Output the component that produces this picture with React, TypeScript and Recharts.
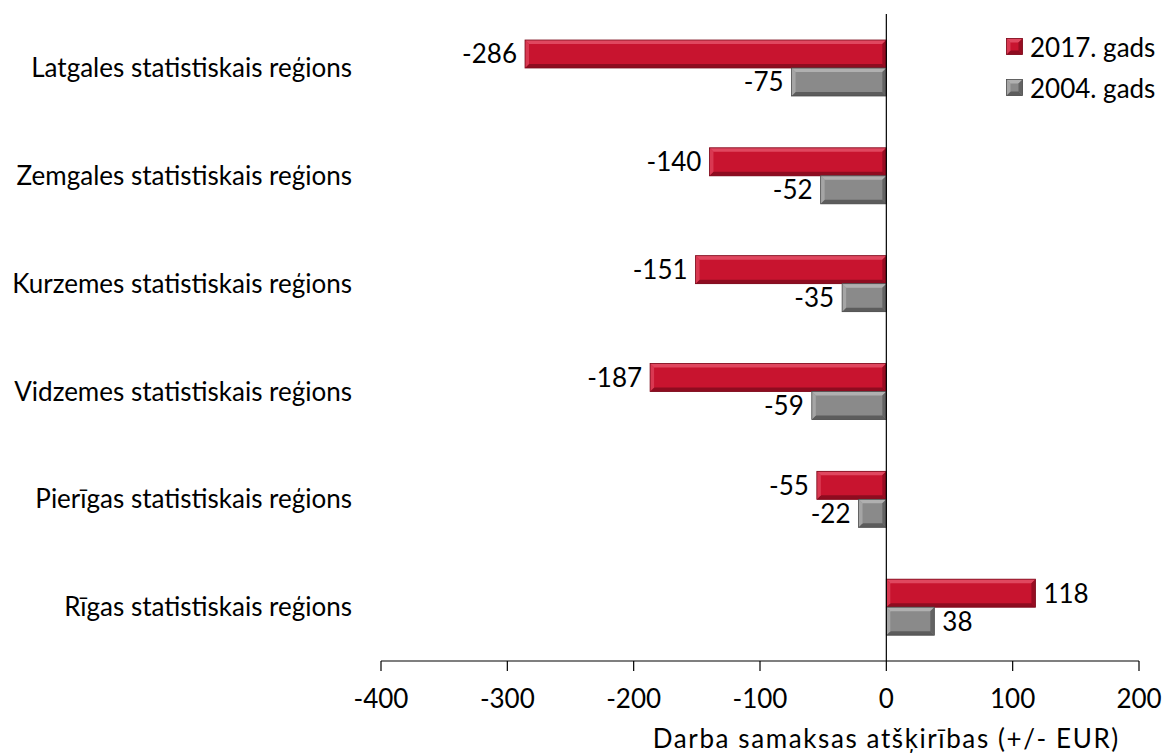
import { BarChart, Bar, XAxis, YAxis, ReferenceLine, LabelList } from 'recharts';

const regions = [
  'Latgales statistiskais reģions',
  'Zemgales statistiskais reģions',
  'Kurzemes statistiskais reģions',
  'Vidzemes statistiskais reģions',
  'Pierīgas statistiskais reģions',
  'Rīgas statistiskais reģions',
];
const values2017 = [-286, -140, -151, -187, -55, 118];
const values2004 = [-75, -52, -35, -59, -22, 38];
const xTicks = [-400, -300, -200, -100, 0, 100, 200];

const FONT = 'Lato, "Open Sans", sans-serif';
const FS = 26;
const RED = { main: '#c8142f', light: '#e0475f', dark: '#8e0c20', edge: '#7a0a1b' };
const GREY = { main: '#8a8a8a', light: '#b0b0b0', dark: '#5c5c5c', edge: '#4d4d4d' };

const data = regions.map((region, i) => ({
  region,
  y2017: values2017[i],
  y2004: values2004[i],
}));

type Pal = typeof RED;

function Bevel({ x, y, w, h, pal }: { x: number; y: number; w: number; h: number; pal: Pal }) {
  const b = Math.min(4, w / 2, h / 2);
  return (
    <g>
      <rect x={x} y={y} width={w} height={h} fill={pal.main} />
      <polygon points={`${x},${y} ${x + w},${y} ${x + w - b},${y + b} ${x + b},${y + b}`} fill={pal.light} />
      <polygon points={`${x},${y + h} ${x + w},${y + h} ${x + w - b},${y + h - b} ${x + b},${y + h - b}`} fill={pal.dark} />
      <polygon points={`${x},${y} ${x + b},${y + b} ${x + b},${y + h - b} ${x},${y + h}`} fill={pal.light} opacity={0.7} />
      <polygon points={`${x + w},${y} ${x + w - b},${y + b} ${x + w - b},${y + h - b} ${x + w},${y + h}`} fill={pal.dark} opacity={0.85} />
      <rect x={x} y={y} width={w} height={h} fill="none" stroke={pal.edge} strokeWidth={0.8} />
    </g>
  );
}

const bevelShape = (pal: Pal) => (props: any) => {
  const { x, y, width, height } = props;
  const x0 = width < 0 ? x + width : x;
  const w = Math.abs(width);
  if (!w) return <g />;
  return <Bevel x={x0} y={y} w={w} h={height} pal={pal} />;
};

const valueLabel = (props: any) => {
  const { x, y, width, height, value } = props;
  const left = Math.min(x, x + width);
  const right = Math.max(x, x + width);
  const neg = value < 0;
  return (
    <text
      x={neg ? left - 8 : right + 8}
      y={y + height / 2}
      dy="0.36em"
      textAnchor={neg ? 'end' : 'start'}
      fontSize={FS}
      fontFamily={FONT}
      fill="#000"
    >
      {value}
    </text>
  );
};

const axisTitle = (props: any) => {
  const { viewBox } = props;
  // centred under the zero line
  const cx = viewBox.x + (viewBox.width * 400) / 600;
  return (
    <text
      x={cx}
      y={748}
      textAnchor="middle"
      fontSize={FS}
      fontFamily={FONT}
      letterSpacing={1.6}
      fill="#000"
    >
      Darba samaksas atšķirības (+/- EUR)
    </text>
  );
};

function LegendBox() {
  const items = [
    { label: '2017. gads', pal: RED },
    { label: '2004. gads', pal: GREY },
  ];
  return (
    <div
      style={{
        position: 'absolute',
        left: 1006,
        top: 26,
        fontFamily: FONT,
        fontSize: FS,
        color: '#000',
      }}
    >
      {items.map((it) => (
        <div key={it.label} style={{ display: 'flex', alignItems: 'center', height: 41 }}>
          <svg width={17} height={17} style={{ marginRight: 7 }}>
            <Bevel x={0.5} y={0.5} w={16} h={16} pal={it.pal} />
          </svg>
          <span>{it.label}</span>
        </div>
      ))}
    </div>
  );
}

export default function App() {
  return (
    <div style={{ position: 'absolute', left: 0, top: 0, width: 1165, height: 755, background: '#fff' }}>
      <BarChart
        width={1165}
        height={755}
        data={data}
        layout="vertical"
        margin={{ top: 14, right: 26, bottom: 64, left: 0 }}
        barGap={0}
        barSize={28}
      >
        <XAxis
          type="number"
          domain={[-400, 200]}
          ticks={xTicks}
          interval={0}
          height={30}
          axisLine={{ stroke: '#000', strokeWidth: 1.2 }}
          tickLine={{ stroke: '#000', strokeWidth: 1.2 }}
          tickSize={10}
          tickMargin={19}
          tick={{ fontSize: FS, fontFamily: FONT, fill: '#000' }}
          label={axisTitle}
        />
        <YAxis
          type="category"
          dataKey="region"
          width={381}
          axisLine={false}
          tickLine={false}
          tickSize={0}
          tickMargin={29}
          tick={{ fontSize: FS, fontFamily: FONT, fill: '#000' }}
        />
        <ReferenceLine x={0} stroke="#000" strokeWidth={1.2} />
        <Bar dataKey="y2017" name="2017. gads" fill={RED.main} shape={bevelShape(RED)} isAnimationActive={false}>
          <LabelList dataKey="y2017" content={valueLabel} />
        </Bar>
        <Bar dataKey="y2004" name="2004. gads" fill={GREY.main} shape={bevelShape(GREY)} isAnimationActive={false}>
          <LabelList dataKey="y2004" content={valueLabel} />
        </Bar>
      </BarChart>
      <LegendBox />
    </div>
  );
}
